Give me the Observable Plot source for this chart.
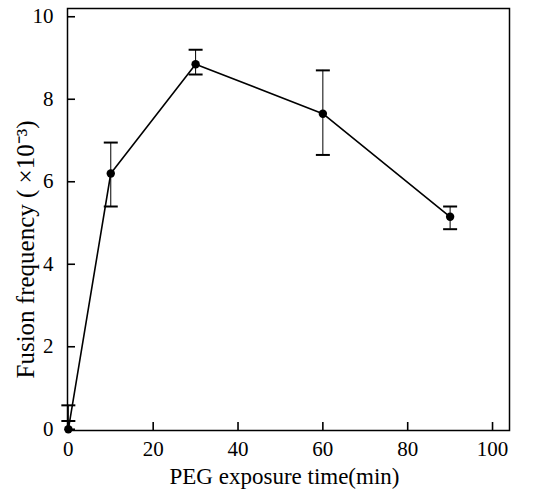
<!DOCTYPE html>
<html><head><meta charset="utf-8">
<script src="https://cdn.jsdelivr.net/npm/d3@7"></script>
<script src="https://cdn.jsdelivr.net/npm/@observablehq/plot@0.6"></script>
<style>body{margin:0;background:#fff} svg{display:block} svg text{font-family:'Liberation Serif','Times New Roman',serif}</style>
</head><body><div id="chart"></div>
<script>
const times = [0, 10, 30, 60, 90];
const means = [0.0, 6.2, 8.85, 7.65, 5.15];
const lows  = [0.2, 5.4, 8.6, 6.65, 4.85];
const highs = [0.58, 6.95, 9.2, 8.7, 5.4];
const xTicks = [0, 20, 40, 60, 80, 100];
const yTicks = [0, 2, 4, 6, 8, 10];
const xLabel = "PEG exposure time(min)";
const yLabel = "Fusion frequency ( ×10⁻³)";

const data = times.map((t, i) => ({t, m: means[i], lo: lows[i], hi: highs[i]}));
const cap = {draw(ctx, size) { const r = Math.sqrt(size / Math.PI); ctx.moveTo(-r, 0); ctx.lineTo(r, 0); }};
const serif = "'Liberation Serif', 'Times New Roman', serif";
const W = 539, H = 496, mL = 67, mR = 30, mT = 8, mB = 66, tickLen = 8;
const xDomain = [-0.2, 104], yDomain = [-0.03, 10.2];
// tick length converted from pixels to data units
const yTickLen = tickLen * (yDomain[1] - yDomain[0]) / (H - mT - mB);
const xTickLen = tickLen * (xDomain[1] - xDomain[0]) / (W - mL - mR);

const chart = Plot.plot({
  width: W, height: H,
  marginLeft: mL, marginRight: mR, marginTop: mT, marginBottom: mB,
  style: {fontFamily: serif, fontSize: "21px", color: "black", background: "white", overflow: "visible"},
  x: {domain: xDomain, axis: null},
  y: {domain: yDomain, axis: null},
  marks: [
    Plot.frame({stroke: "black", strokeWidth: 1.5}),
    Plot.ruleX(xTicks, {x: d => d, y1: yDomain[0], y2: yDomain[0] + yTickLen, stroke: "black", strokeWidth: 1.6}),
    Plot.ruleY(yTicks, {y: d => d, x1: xDomain[0], x2: xDomain[0] + xTickLen, stroke: "black", strokeWidth: 1.6}),
    Plot.text(xTicks, {x: d => d, text: d => String(d), frameAnchor: "bottom", lineAnchor: "top", dy: 11, fontSize: 21, fontFamily: serif, fill: "black"}),
    Plot.text(yTicks, {y: d => d, text: d => String(d), frameAnchor: "left", textAnchor: "end", dx: -14, fontSize: 21, fontFamily: serif, fill: "black"}),
    Plot.ruleX(data, {x: "t", y1: "lo", y2: "hi", stroke: "black", strokeWidth: 1}),
    Plot.dot(data, {x: "t", y: "lo", symbol: cap, r: 7, stroke: "black", strokeWidth: 2, fill: "none"}),
    Plot.dot(data, {x: "t", y: "hi", symbol: cap, r: 7, stroke: "black", strokeWidth: 2, fill: "none"}),
    Plot.line(data, {x: "t", y: "m", stroke: "black", strokeWidth: 1.6}),
    Plot.dot(data, {x: "t", y: "m", r: 4.2, fill: "black", stroke: "none"}),
    Plot.text([xLabel], {text: d => d, frameAnchor: "bottom", dy: 53, dx: -4, fontSize: 23, fontFamily: serif, fill: "black"}),
    Plot.text([yLabel], {text: d => d, frameAnchor: "left", textAnchor: "middle", dx: -42, dy: 30, rotate: -90, fontSize: 25, fontFamily: serif, fill: "black"})
  ]
});
document.getElementById("chart").appendChild(chart);
</script>
</body></html>
